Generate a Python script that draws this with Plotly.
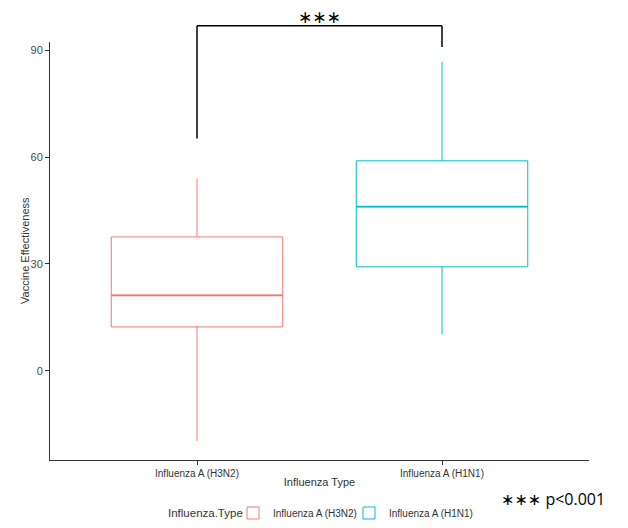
import plotly.graph_objects as go

categories = ["Influenza A (H3N2)", "Influenza A (H1N1)"]
colors = ["#F8766D", "#00BFC4"]
lower_whisker = [-19.7, 10.2]
q1 = [12.3, 29.2]
median = [21.2, 46.1]
q3 = [37.6, 59.0]
upper_whisker = [54.0, 86.8]

y_ticks = [0, 30, 60, 90]
y_range = [-25.1, 92.4]

bracket_top = 97.0
bracket_tips = [65.3, 91.0]
signif_label = "∗∗∗"
p_note = "∗∗∗ p<0.001"
legend_title = "Influenza.Type"
y_title = "Vaccine Effectiveness"
x_title = "Influenza Type"

box_width = 0.7
L, R, T, B = 50, 39, 42, 68
W, H = 628, 528
pw, ph = W - L - R, H - T - B
legend_names = ["legend", "legend2"]
legend_px = [233, 349]

fig = go.Figure()
for i, cat in enumerate(categories):
    fig.add_trace(go.Box(
        x=[cat], name=cat,
        q1=[q1[i]], median=[median[i]], q3=[q3[i]],
        lowerfence=[lower_whisker[i]], upperfence=[upper_whisker[i]],
        line=dict(color=colors[i], width=1),
        fillcolor="white", whiskerwidth=0, boxpoints=False,
        width=box_width, showlegend=True, legend=legend_names[i],
    ))
    # thicker median line like ggplot
    fig.add_shape(type="line", xref="x", yref="y",
                  x0=i - box_width / 2, x1=i + box_width / 2,
                  y0=median[i], y1=median[i],
                  line=dict(color=colors[i], width=1.8))

def to_paper(v):
    return (v - y_range[0]) / (y_range[1] - y_range[0])

# significance bracket (drawn outside the panel)
for i in range(2):
    fig.add_shape(type="line", xref="x", yref="paper",
                  x0=i, x1=i, y0=to_paper(bracket_tips[i]), y1=to_paper(bracket_top),
                  line=dict(color="black", width=1.5))
fig.add_shape(type="line", xref="x", yref="paper",
              x0=0, x1=1, y0=to_paper(bracket_top), y1=to_paper(bracket_top),
              line=dict(color="black", width=1.5))
fig.add_annotation(x=0.5, xref="x", y=to_paper(bracket_top), yref="paper",
                   text=signif_label, showarrow=False, yanchor="bottom",
                   font=dict(size=17, color="black", family="DejaVu Sans"), yshift=-3)

fig.add_annotation(x=(607 - L) / pw, xref="paper", y=-(499 - (T + ph)) / ph, yref="paper",
                   text=p_note, showarrow=False, xanchor="right", yanchor="middle",
                   font=dict(size=16, color="black", family="Open Sans, DejaVu Sans"))

fig.add_annotation(x=(166 - L) / pw, xref="paper", y=-(513 - (T + ph)) / ph, yref="paper",
                   text=legend_title, showarrow=False, xanchor="left", yanchor="middle",
                   font=dict(size=11.5, color="#333"))

# y-axis title
fig.add_annotation(x=(25 - L) / pw, xref="paper", y=0.5, yref="paper",
                   text=y_title, showarrow=False, textangle=-90,
                   xanchor="center", yanchor="middle",
                   font=dict(size=11, color="#333"))

legend_y = -(513 - (T + ph)) / ph
legend_common = dict(orientation="h", xanchor="left", y=legend_y, yanchor="middle",
                     font=dict(size=10, color="#333"), bgcolor="rgba(0,0,0,0)")

fig.update_layout(
    width=W, height=H,
    margin=dict(l=L, r=R, t=T, b=B, autoexpand=False),
    paper_bgcolor="white", plot_bgcolor="white",
    font=dict(family="Liberation Sans, Arial, sans-serif", color="#4d4d4d", size=10),
    boxmode="overlay",
    xaxis=dict(
        type="category", range=[-0.6, 1.6], showline=True, linecolor="#333",
        linewidth=1, ticks="outside", ticklen=4, tickcolor="#333",
        showgrid=False, zeroline=False, automargin=False,
        title=dict(text=x_title, font=dict(size=11, color="#333"), standoff=0),
        tickfont=dict(size=10, color="#333"),
    ),
    yaxis=dict(
        range=y_range, tickvals=y_ticks, showline=True, linecolor="#333",
        linewidth=1, ticks="outside", ticklen=4, tickcolor="#333",
        showgrid=False, zeroline=False, automargin=False,
        tickfont=dict(size=11, color="#4d4d4d"),
    ),
    legend=dict(x=(legend_px[0] - L) / pw, **legend_common),
    legend2=dict(x=(legend_px[1] - L) / pw, **legend_common),
)

fig.write_html("out.html")
